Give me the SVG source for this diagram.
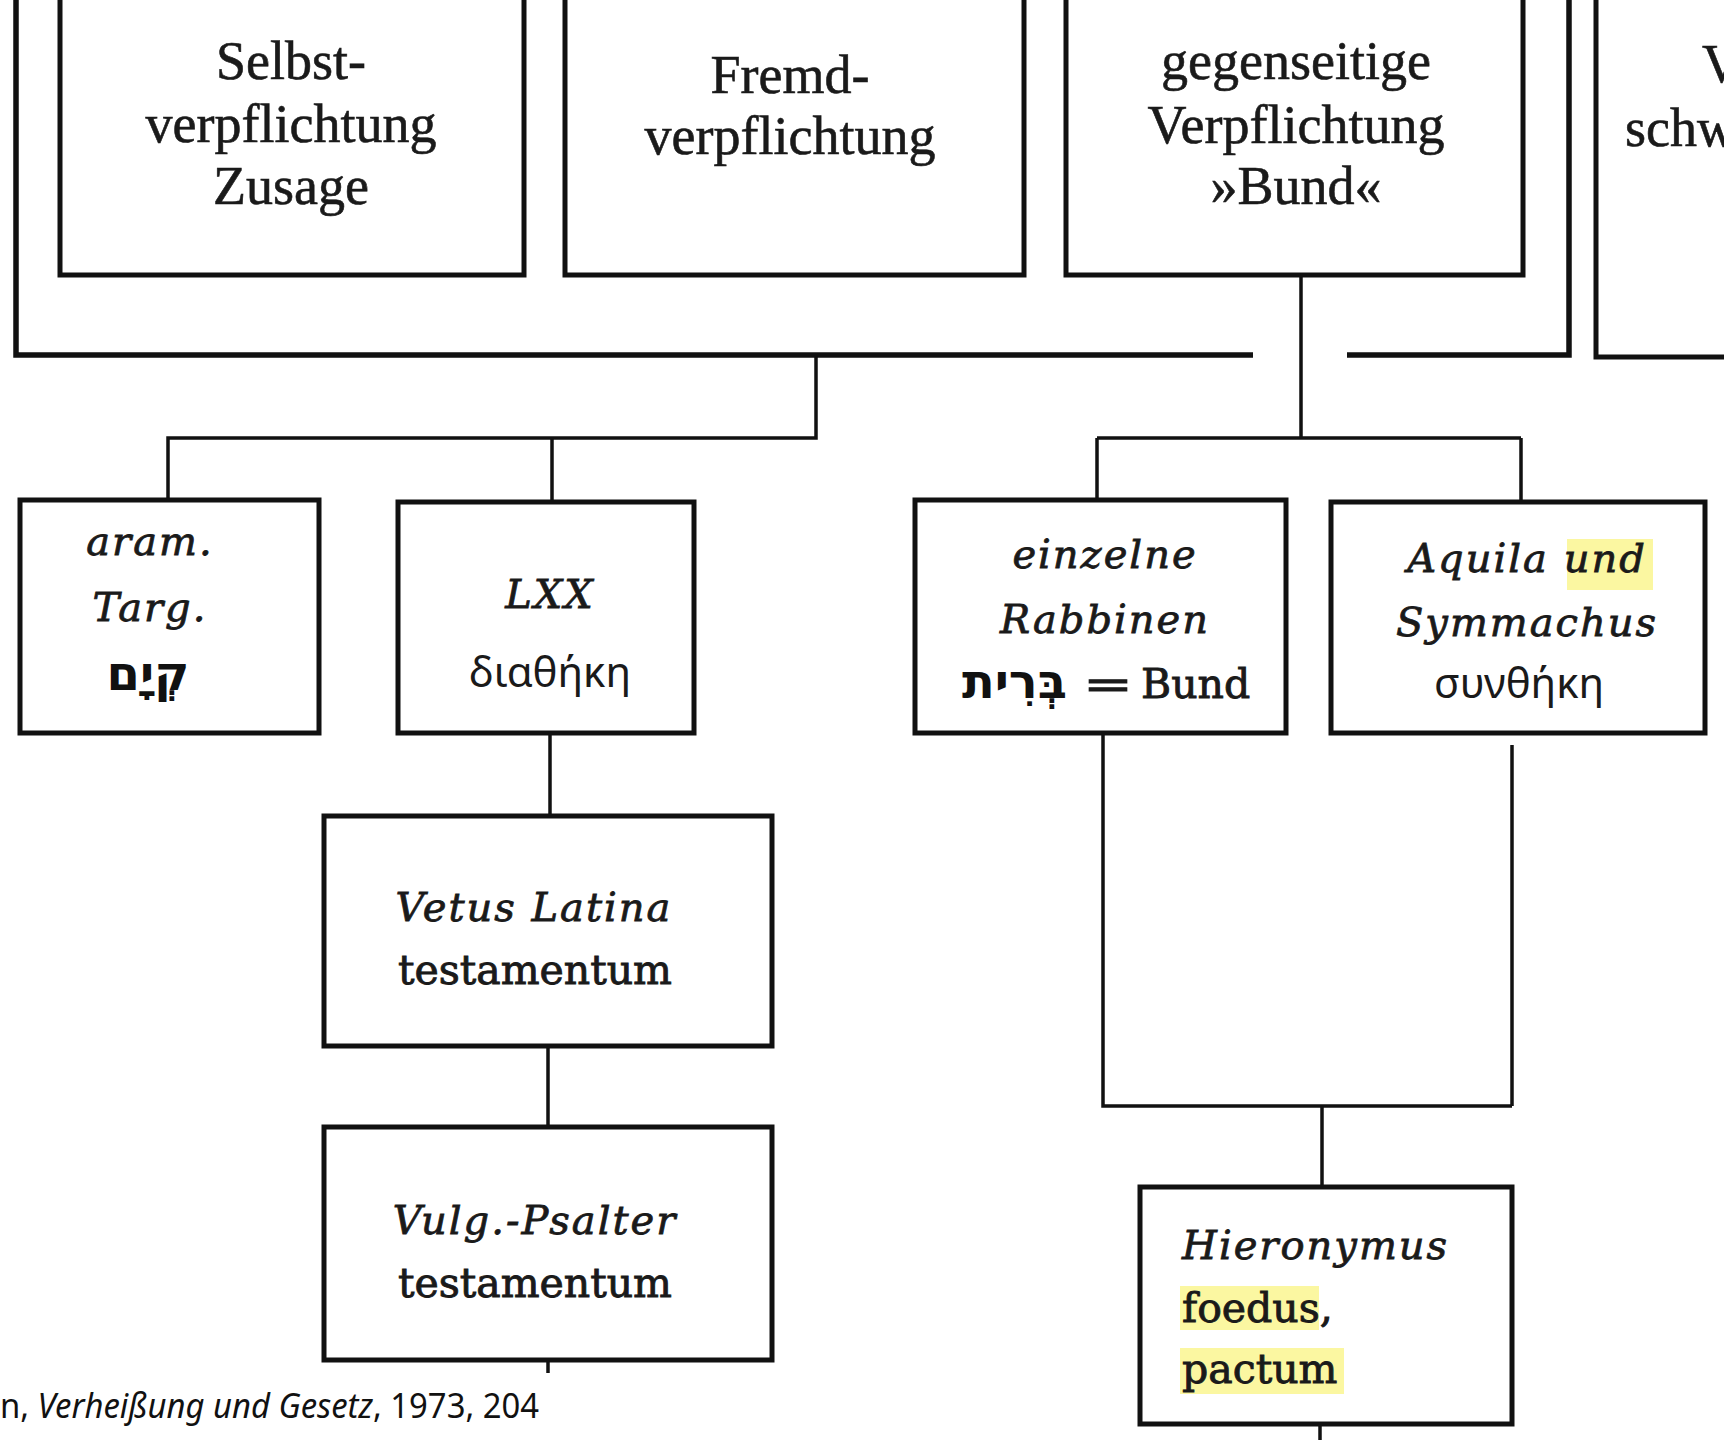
<svg xmlns="http://www.w3.org/2000/svg" width="1724" height="1440" viewBox="0 0 1724 1440">
<style>
.box{fill:#fff;stroke:#111;stroke-width:5}
.frame{fill:none;stroke:#111;stroke-width:5.5}
.con{fill:none;stroke:#111;stroke-width:3.5}
.top{font-family:"Liberation Serif","DejaVu Serif",serif;font-size:54px;fill:#1a1a1a;stroke:#1a1a1a;stroke-width:0.6;text-anchor:middle}
.it{font-family:"DejaVu Serif","Liberation Serif",serif;font-style:italic;font-size:40px;fill:#1a1a1a;stroke:#1a1a1a;stroke-width:0.8;text-anchor:middle;letter-spacing:2px}
.rm{font-family:"DejaVu Serif","Liberation Serif",serif;font-size:41px;fill:#1a1a1a;stroke:#1a1a1a;stroke-width:0.9;text-anchor:middle}
.gr{font-family:"Noto Sans","DejaVu Sans",sans-serif;font-size:42px;fill:#1a1a1a;text-anchor:middle}
.he{font-family:"DejaVu Sans","Liberation Serif",sans-serif;font-weight:bold;font-size:48px;fill:#111}
.hl{fill:#fbf7a1}
.cap{font-family:"Noto Sans","Open Sans",sans-serif;font-size:34px;fill:#111}
</style>

<g id="connectors">
  <path class="frame" d="M16,-10 V355 H1253 M1347,355 H1569 V-10"/>
  <path class="con" d="M816,355 V438 H168 V500 M552,438 V502"/>
  <path class="con" d="M1301,275 V438 M1097,438 H1521 M1097,438 V500 M1521,438 V502"/>
  <path class="con" d="M550,733 V816"/>
  <path class="con" d="M548,1046 V1127"/>
  <path class="con" d="M548,1360 V1373"/>
  <path class="con" d="M1103,733 V1106 H1512 M1512,745 V1106"/>
  <path class="con" d="M1322,1106 V1187"/>
  <path class="con" d="M1320,1424 V1442"/>
</g>

<g id="selbst">
  <rect class="box" x="60" y="-20" width="464" height="295"/>
  <text class="top" x="291" y="79">Selbst-</text>
  <text class="top" x="291" y="142">verpflichtung</text>
  <text class="top" x="291" y="204">Zusage</text>
</g>

<g id="fremd">
  <rect class="box" x="565" y="-20" width="459" height="295"/>
  <text class="top" x="790" y="93">Fremd-</text>
  <text class="top" x="790" y="154">verpflichtung</text>
</g>

<g id="gegenseitig">
  <rect class="box" x="1066" y="-20" width="457" height="295"/>
  <text class="top" x="1296" y="79">gegenseitige</text>
  <text class="top" x="1296" y="143">Verpflichtung</text>
  <text class="top" x="1296" y="204">»Bund«</text>
</g>

<g id="vierte">
  <rect class="box" x="1596" y="-20" width="160" height="377"/>
  <text class="top" x="1702" y="82" style="text-anchor:start">V</text>
  <text class="top" x="1625" y="146" style="text-anchor:start">schw</text>
</g>

<g id="targum">
  <rect class="box" x="20" y="500" width="299" height="233"/>
  <text class="it" x="150" y="555">aram.</text>
  <text class="it" x="150" y="621">Targ.</text>
  <text class="he" x="148" y="690" text-anchor="middle">קְיָם</text>
</g>

<g id="lxx">
  <rect class="box" x="398" y="502" width="296" height="231"/>
  <text class="it" x="550" y="608">LXX</text>
  <text class="gr" x="550" y="687">διαθήκη</text>
</g>

<g id="rabbinen">
  <rect class="box" x="915" y="500" width="371" height="233"/>
  <text class="it" x="1105" y="568">einzelne</text>
  <text class="it" x="1105" y="633">Rabbinen</text>
  <text class="he" x="1067" y="698" text-anchor="end">בְּרִית</text>
  <text class="rm" x="1083" y="698" style="text-anchor:start" textLength="50" lengthAdjust="spacingAndGlyphs">=</text>
  <text class="rm" x="1141" y="698" style="text-anchor:start">Bund</text>
</g>

<g id="aquila">
  <rect class="box" x="1331" y="502" width="374" height="231"/>
  <rect class="hl" x="1567" y="539" width="86" height="51"/>
  <text class="it" x="1527" y="572">Aquila und</text>
  <text class="it" x="1527" y="636">Symmachus</text>
  <text class="gr" x="1519" y="698">συνθήκη</text>
</g>

<g id="vetus">
  <rect class="box" x="324" y="816" width="448" height="230"/>
  <text class="it" x="534" y="921">Vetus Latina</text>
  <text class="rm" x="535" y="984">testamentum</text>
</g>

<g id="vulgata">
  <rect class="box" x="324" y="1127" width="448" height="233"/>
  <text class="it" x="535" y="1234">Vulg.-Psalter</text>
  <text class="rm" x="535" y="1297">testamentum</text>
</g>

<g id="hieronymus">
  <rect class="box" x="1140" y="1187" width="372" height="237"/>
  <rect class="hl" x="1180" y="1286" width="139" height="44"/>
  <rect class="hl" x="1180" y="1348" width="164" height="46"/>
  <text class="it" x="1182" y="1259" style="text-anchor:start">Hieronymus</text>
  <text class="rm" x="1182" y="1322" style="text-anchor:start">foedus,</text>
  <text class="rm" x="1182" y="1383" style="text-anchor:start">pactum</text>
</g>

<g id="caption">
  <text class="cap" x="0" y="1418" textLength="539" lengthAdjust="spacingAndGlyphs">n, <tspan font-style="italic">Verheißung und Gesetz</tspan>, 1973, 204</text>
</g>
</svg>
